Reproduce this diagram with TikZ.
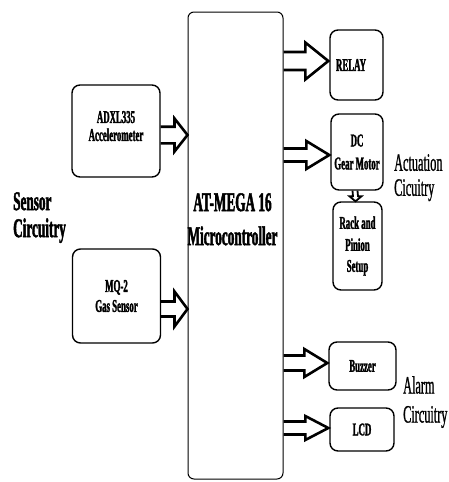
\documentclass[tikz,border=0pt]{standalone}
\usepackage{fontspec}
\setmainfont{Liberation Serif}[FakeStretch=0.49, FakeBold=0.8, BoldFeatures={FakeBold=1.6}]
\usetikzlibrary{calc, positioning}

\tikzset{
  blk/.style={draw, line width=1.4pt, rounded corners=8pt, inner sep=0pt, align=center,
    font=\bfseries\fontsize{18}{21}\selectfont},
  fatline/.style={line width=2.6pt, line join=miter, miter limit=10},
  side/.style={inner sep=0pt, align=left, anchor=north west}
}

% tail, tip, head length, half shaft, half head
\newcommand{\fatarrow}[5]{%
  \draw[fatline] ($(#1)+(0,#4)$) -- ($(#2)+(-#3,#4)$) -- ($(#2)+(-#3,#5)$) -- (#2)
    -- ($(#2)+(-#3,-#5)$) -- ($(#2)+(-#3,-#4)$) -- ($(#1)+(0,-#4)$);}
\newcommand{\fatarrowdown}[5]{%
  \draw[fatline, line width=1.8pt] ($(#1)+(#4,0)$) -- ($(#2)+(#4,#3)$) -- ($(#2)+(#5,#3)$) -- (#2)
    -- ($(#2)+(-#5,#3)$) -- ($(#2)+(-#4,#3)$) -- ($(#1)+(-#4,0)$);}

\begin{document}
\begin{tikzpicture}[x=1pt, y=1pt]
    \useasboundingbox (0,0) rectangle (449,-482);

    \node[blk, line width=1pt, rounded corners=6pt, minimum width=95pt, minimum height=467pt] (mcu) at (235.5,-245.5) {};
    \node[inner sep=0pt, align=center, anchor=north, font=\bfseries\fontsize{27}{34}\selectfont] (mcutext) at (232.5,-193) {AT-MEGA 16\\Microcontroller};

    \node[blk, text depth=10pt, minimum width=88pt, minimum height=92pt] (adxl) at (116,-131) {ADXL335\\[-3pt]Accelerometer};
    \node[blk, minimum width=88pt, minimum height=94pt] (mq) at (116.5,-296) {MQ-2\\[-1pt]Gas Sensor};

    \node[blk, align=left, text width=41pt, minimum width=53pt, minimum height=70pt] (relay) at (356.5,-65) {RELAY};
    \node[blk, minimum width=52pt, minimum height=76pt] (dc) at (357,-152) {DC\\[2pt]Gear Motor};
    \node[blk, minimum width=49pt, minimum height=88pt] (rack) at (357.5,-246) {Rack and\\[1pt]Pinion\\Setup};
    \node[blk, minimum width=67pt, minimum height=48pt] (buzzer) at (362.5,-366) {Buzzer};
    \node[blk, minimum width=64pt, minimum height=43pt] (lcd) at (362,-429.5) {LCD};

    \node[side, font=\bfseries\fontsize{27}{27}\selectfont] (sensor) at (13,-192) {Sensor\\Circuitry};
    \node[side, font=\fontsize{25}{25}\selectfont] (actuation) at (394,-154) {Actuation\\Cicuitry};
    \node[side, font=\fontsize{25}{29}\selectfont] (alarm) at (403,-376) {Alarm\\Circuitry};

    \coordinate (adxlout) at (adxl.east |- 0,-135);
    \coordinate (mcuin1) at (adxlout -| mcu.west);
    \coordinate (mqout) at (mq.east |- 0,-309);
    \coordinate (mcuin2) at (mqout -| mcu.west);
    \coordinate (mcuout1) at (mcu.east |- 0,-61);
    \coordinate (relayin) at ([xshift=-1pt]mcuout1 -| relay.west);
    \coordinate (mcuout2) at (mcu.east |- 0,-155);
    \coordinate (dcin) at ([xshift=-1pt]mcuout2 -| dc.west);
    \coordinate (mcuout3) at (mcu.east |- 0,-363);
    \coordinate (buzzerin) at ([xshift=-1pt]mcuout3 -| buzzer.west);
    \coordinate (mcuout4) at (mcu.east |- 0,-428);
    \coordinate (lcdin) at ([xshift=-1pt]mcuout4 -| lcd.west);
    \coordinate (dcout) at ([xshift=-2pt]dc.south);
    \coordinate (rackin) at ([xshift=-2pt]rack.north);

    \fatarrow{adxlout}{mcuin1}{13}{8.3}{16.5}
    \fatarrow{mqout}{mcuin2}{13}{7.5}{17.5}
    \fatarrow{mcuout1}{relayin}{23}{9}{18.5}
    \fatarrow{mcuout2}{dcin}{23}{6.5}{14}
    \fatarrow{mcuout3}{buzzerin}{23}{7.5}{14}
    \fatarrow{mcuout4}{lcdin}{23}{6.5}{12}
    \fatarrowdown{dcout}{rackin}{5}{2.5}{6}
\end{tikzpicture}
\end{document}
